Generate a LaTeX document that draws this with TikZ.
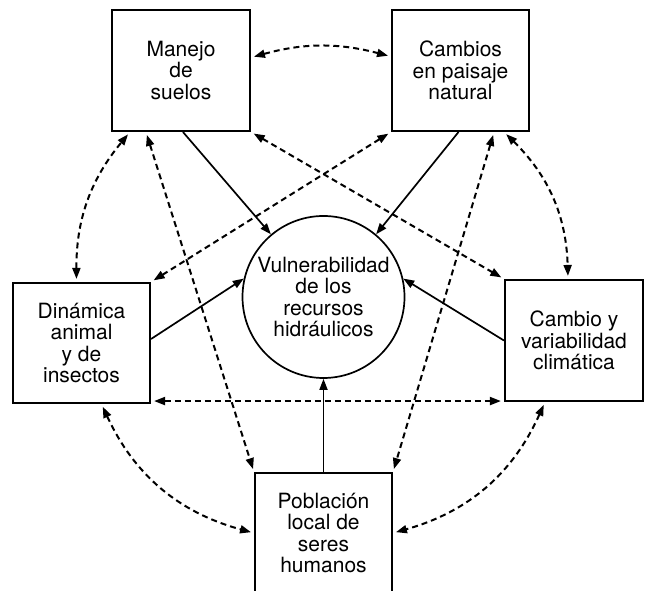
\documentclass[tikz,border=0pt]{standalone}
\usepackage{fontspec}
\setmainfont{TeX Gyre Heros}
\usetikzlibrary{arrows.meta,calc}
\begin{document}
\begin{tikzpicture}[x=1pt,y=1pt,
  txt/.style={font=\fontsize{21}{21.5}\selectfont},
  box/.style={draw, line width=2.1pt, align=center, inner sep=0pt, txt},
  hub/.style={draw, circle, line width=1.7pt, minimum size=162pt, inner sep=0pt, align=center, txt},
  solidarrow/.style={line width=1.7pt, -{Triangle[length=11pt,width=8pt]}},
  dasharrow/.style={line width=2pt, dash pattern=on 6pt off 4pt,
    {Triangle[length=11pt,width=8pt]}-{Triangle[length=11pt,width=8pt]},
    shorten <=3pt, shorten >=3pt}]
\useasboundingbox (0,0) rectangle (648,591);

\node[box, minimum width=138pt, minimum height=121pt] (m) at (181,520.5) {Manejo\\de\\suelos};
\node[box, minimum width=137pt, minimum height=121pt] (c) at (460.5,520.5) {Cambios\\en paisaje\\natural};
\node[box, minimum width=137pt, minimum height=120pt] (d) at (81.5,248) {Dinámica\\animal\\y de\\insectos};
\node[box, minimum width=138pt, minimum height=121pt] (v) at (574,250.5) {Cambio y\\variabilidad\\climática};
\node[box, minimum width=137pt, minimum height=120pt] (p) at (323.5,58) {Población\\local de\\seres\\humanos};
\node[hub] (w) at (323.5,294) {Vulnerabilidad\\de los\\recursos\\hidráulicos};

% solid influences
\draw[solidarrow] ([xshift=2pt]m.south) -- (w.130);
\draw[solidarrow] ([xshift=-2pt]c.south) -- (w.50);
\draw[solidarrow] ([yshift=4pt]d.east) -- (w.167);
\draw[solidarrow] (v.west) -- (w.13);
\draw[solidarrow] (p.north) -- (w.south);

% dashed mutual links
\draw[dasharrow] ([yshift=13pt]m.east) to[bend left=15] ([yshift=14pt]c.west);
\draw[dasharrow] ([xshift=-5pt]d.north) to[bend left=20] ([xshift=19pt]m.south west);
\draw[dasharrow] ([xshift=35pt]m.south west) -- (p.north west);
\draw[dasharrow] (m.south east) -- (v.north west);
\draw[dasharrow] (c.south west) -- (d.north east);
\draw[dasharrow] ([xshift=-36pt]c.south east) -- (p.north east);
\draw[dasharrow] ([xshift=-26pt]c.south east) to[bend left=22] ([xshift=-6pt]v.north);
\draw[dasharrow] ([yshift=3pt]d.south east) -- ([yshift=1pt]v.south west);
\draw[dasharrow] ([xshift=20pt]d.south) to[bend right=25] (p.west);
\draw[dasharrow] ([xshift=-29pt]v.south) to[bend left=25] (p.east);
\end{tikzpicture}
\end{document}
